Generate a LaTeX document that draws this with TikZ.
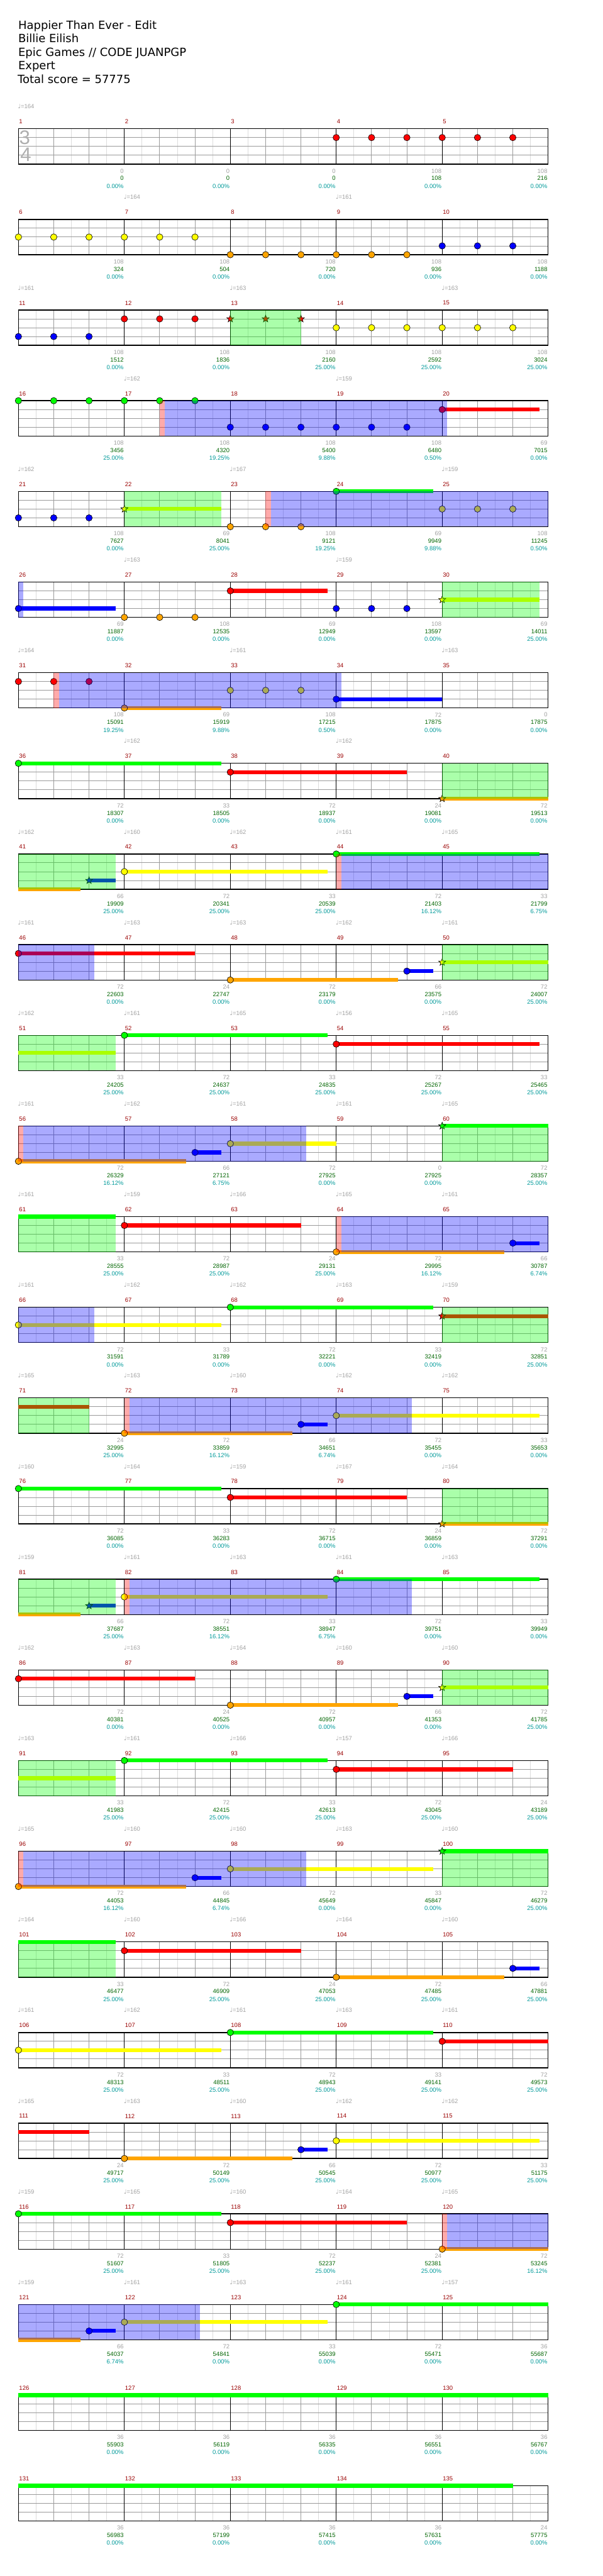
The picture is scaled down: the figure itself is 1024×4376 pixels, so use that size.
\documentclass[tikz,border=0pt]{standalone}
\usepackage{fontspec}
\setmainfont{Liberation Sans}
\newfontfamily\headfont{DejaVu Sans}
\newfontfamily\notefont{DejaVu Sans}
\usepackage{tikz}
\usetikzlibrary{shapes.geometric}

\definecolor{ngreen}{RGB}{0,255,0}
\definecolor{nred}{RGB}{255,0,0}
\definecolor{nyellow}{RGB}{255,255,0}
\definecolor{nblue}{RGB}{0,0,255}
\definecolor{norange}{RGB}{255,165,0}
\definecolor{barred}{RGB}{153,0,0}
\definecolor{softgray}{RGB}{160,160,160}
\definecolor{scoregreen}{RGB}{0,100,0}
\definecolor{spteal}{RGB}{0,153,153}
\definecolor{beatgray}{RGB}{155,155,155}
\definecolor{halfgray}{RGB}{220,220,220}
\definecolor{sigdigit}{RGB}{175,175,175}

\newcommand{\smallfont}{\fontsize{7.6}{8}\selectfont}

\tikzstyle{titleline} = [anchor=base west, inner sep=0pt, font=\headfont\fontsize{14.4}{16}\selectfont]
\tikzstyle{barnumber} = [anchor=west, inner sep=0pt, font=\smallfont, text=barred]
\tikzstyle{basescore} = [anchor=east, inner sep=0pt, font=\smallfont, text=softgray]
\tikzstyle{totscore}  = [anchor=east, inner sep=0pt, font=\smallfont, text=scoregreen]
\tikzstyle{sppercent} = [anchor=east, inner sep=0pt, font=\smallfont, text=spteal]
\tikzstyle{tempomark} = [anchor=west, inner sep=0pt, font=\smallfont, text=softgray]
\tikzstyle{timesig}   = [inner sep=0pt, font=\fontsize{25}{26}\selectfont, text=sigdigit]
\tikzstyle{gemline}   = [draw=black, line width=0.5pt]
\tikzstyle{starnote}  = [star, star points=5, star point ratio=2.4, minimum size=9.5pt,
                         inner sep=0pt, draw=black, line width=0.5pt]
\tikzstyle{phrase}    = [fill=ngreen, fill opacity=0.333]
\tikzstyle{activ}     = [fill=nblue, fill opacity=0.333]
\tikzstyle{whammy}    = [fill=nred, fill opacity=0.333]

% one row = 5 bars of 3 beats, 60px a beat, rows 154px apart
\newcommand{\rowgrid}[1]{%
  \pgfmathsetmacro{\ty}{218.7+154*#1}
  \foreach \i in {0,...,14} \draw[halfgray, line width=0.75pt] ({61.3+60*\i},\ty) -- ++(0,60);
  \foreach \i in {1,2,4,5,7,8,10,11,13,14} \draw[beatgray, line width=0.75pt] ({31.3+60*\i},\ty) -- ++(0,60);
  \foreach \j in {15,30,45} \draw[beatgray, line width=0.75pt] (31.3,\ty+\j) -- (931.3,\ty+\j);
  \foreach \k in {1,...,4} \draw[black, line width=0.75pt] ({31.3+180*\k},\ty) -- ++(0,60);
  \draw[black, line width=1.1pt] (31.3,\ty) rectangle (931.3,\ty+60);
  \foreach \k in {0,...,4} {
    \pgfmathtruncatemacro{\m}{5*#1+\k+1}
    \node[barnumber] (bar-\m) at ({32.3+180*\k},\ty-12) {\m};}}
\newcommand{\rowlabels}[2]{%
  \pgfmathsetmacro{\ly}{218.7+154*#1+60}
  \foreach \g/\s/\p [count=\k] in {#2} {
    \node[basescore] (base-#1-\k)  at ({30.3+180*\k},\ly+11.7) {\g};
    \node[totscore]  (total-#1-\k) at ({30.3+180*\k},\ly+24.4) {\s};
    \node[sppercent] (sp-#1-\k)    at ({30.3+180*\k},\ly+37.4) {\p\%};}}
\newcommand{\tempos}[2]{%
  \foreach \k/\t in {#2}
    \node[tempomark] (bpm-#1-\k) at ({30.3+180*\k},{218.7+154*#1-37.7}) {{\notefont ♩}=\t};}
% notes: row, beat, lane (0 green .. 4 orange), colour
\newcommand{\gem}[4]{\filldraw[fill=#4, gemline] ({31.3+60*#2},{218.7+154*#1+15*#3}) circle (5.5);}
\newcommand{\gems}[4]{\foreach \b in {#2} {\gem{#1}{\b}{#3}{#4}}}
\newcommand{\stargem}[4]{\node[starnote, fill=#4] (star-#1-#2) at ({31.3+60*#2},{218.7+154*#1+15*#3}) {};}
\newcommand{\sus}[5]{\fill[#5] ({31.3+60*#2},{218.7+154*#1+15*#4-3.3}) rectangle ({31.3+60*(#2+#3)},{218.7+154*#1+15*#4+3.3});}
\newcommand{\hold}[5]{\sus{#1}{#2}{#3}{#4}{#5}\gem{#1}{#2}{#4}{#5}}
\newcommand{\holdstar}[5]{\sus{#1}{#2}{#3}{#4}{#5}\stargem{#1}{#2}{#4}{#5}}
\newcommand{\spzone}[4]{\fill[#4] (#2,{218.7+154*#1}) rectangle (#3,{278.7+154*#1});}

\begin{document}
\begin{tikzpicture}[x=0.75pt, y=-0.75pt]
  \useasboundingbox (0,0) rectangle (1024,4376);

  % Header
  \node[titleline] (song)   at (30.8,49.3)  {Happier Than Ever - Edit};
  \node[titleline] (artist) at (30.8,72.3)  {Billie Eilish};
  \node[titleline] (album)  at (30.8,95.5)  {Epic Games // CODE JUANPGP};
  \node[titleline] (level)  at (30.8,118.4) {Expert};
  \node[titleline] (total)  at (29.8,141.4) {Total score = 57775};

  % measures 1-5
  \rowgrid{0}
  \node[timesig] (signum) at (42,233.3) {3};
  \node[timesig] (sigden) at (43.8,263) {4};
  \gems{0}{9,...,14}{1}{nred}
  \rowlabels{0}{0/0/0.00, 0/0/0.00, 0/0/0.00, 108/108/0.00, 108/216/0.00}
  \tempos{0}{0/164}

  % measures 6-10
  \rowgrid{1}
  \gems{1}{0,...,5}{2}{nyellow}
  \gems{1}{6,...,11}{4}{norange}
  \gems{1}{12,13,14}{3}{nblue}
  \rowlabels{1}{108/324/0.00, 108/504/0.00, 108/720/0.00, 108/936/0.00, 108/1188/0.00}
  \tempos{1}{1/164, 3/161}

  % measures 11-15
  \rowgrid{2}
  \gems{2}{0,1,2}{3}{nblue}
  \gems{2}{3,4,5}{1}{nred}
  \foreach \b in {6,7,8} {\stargem{2}{\b}{1}{nred}}
  \gems{2}{9,...,14}{2}{nyellow}
  \spzone{2}{391.3}{511.3}{phrase}
  \rowlabels{2}{108/1512/0.00, 108/1836/0.00, 108/2160/25.00, 108/2592/25.00, 108/3024/25.00}
  \tempos{2}{0/161, 2/163, 4/163}

  % measures 16-20
  \rowgrid{3}
  \gems{3}{0,...,5}{0}{ngreen}
  \gems{3}{6,...,11}{3}{nblue}
  \hold{3}{12}{2.75}{1}{nred}
  \spzone{3}{271.3}{279.7}{whammy}
  \spzone{3}{279.7}{759.7}{activ}
  \rowlabels{3}{108/3456/25.00, 108/4320/19.25, 108/5400/9.88, 108/6480/0.50, 69/7015/0.00}
  \tempos{3}{1/162, 3/159}

  % measures 21-25
  \rowgrid{4}
  \gems{4}{0,1,2}{3}{nblue}
  \holdstar{4}{3}{2.75}{2}{nyellow}
  \gems{4}{6,7,8}{4}{norange}
  \hold{4}{9}{2.75}{0}{ngreen}
  \gems{4}{12,13,14}{2}{nyellow}
  \spzone{4}{211.3}{376.3}{phrase}
  \spzone{4}{451.3}{460}{whammy}
  \spzone{4}{460}{931.3}{activ}
  \rowlabels{4}{108/7627/0.00, 69/8041/25.00, 108/9121/19.25, 69/9949/9.88, 108/11245/0.50}
  \tempos{4}{0/162, 2/167, 4/159}

  % measures 26-30
  \rowgrid{5}
  \hold{5}{0}{2.75}{3}{nblue}
  \gems{5}{3,4,5}{4}{norange}
  \hold{5}{6}{2.75}{1}{nred}
  \gems{5}{9,10,11}{3}{nblue}
  \holdstar{5}{12}{2.75}{2}{nyellow}
  \spzone{5}{31.3}{40}{activ}
  \spzone{5}{751.3}{916.3}{phrase}
  \rowlabels{5}{69/11887/0.00, 108/12535/0.00, 69/12949/0.00, 108/13597/0.00, 69/14011/25.00}
  \tempos{5}{1/163, 3/159}

  % measures 31-35
  \rowgrid{6}
  \gems{6}{0,1,2}{1}{nred}
  \hold{6}{3}{2.75}{4}{norange}
  \gems{6}{6,7,8}{2}{nyellow}
  \hold{6}{9}{3}{3}{nblue}
  \spzone{6}{91.3}{100}{whammy}
  \spzone{6}{100}{580}{activ}
  \rowlabels{6}{108/15091/19.25, 69/15919/9.88, 108/17215/0.50, 72/17875/0.00, 0/17875/0.00}
  \tempos{6}{0/164, 2/161, 4/163}

  % measures 36-40
  \rowgrid{7}
  \hold{7}{0}{5.75}{0}{ngreen}
  \hold{7}{6}{5}{1}{nred}
  \holdstar{7}{12}{3}{4}{norange}
  \spzone{7}{751.3}{931.3}{phrase}
  \rowlabels{7}{72/18307/0.00, 33/18505/0.00, 72/18937/0.00, 24/19081/0.00, 72/19513/0.00}
  \tempos{7}{1/162, 3/162}

  % measures 41-45
  \rowgrid{8}
  \sus{8}{0}{1.75}{4}{norange}
  \holdstar{8}{2}{0.75}{3}{nblue}
  \hold{8}{3}{5.75}{2}{nyellow}
  \hold{8}{9}{5.75}{0}{ngreen}
  \spzone{8}{31.3}{196.3}{phrase}
  \spzone{8}{571.3}{580}{whammy}
  \spzone{8}{580}{931.3}{activ}
  \rowlabels{8}{66/19909/25.00, 72/20341/25.00, 33/20539/25.00, 72/21403/16.12, 33/21799/6.75}
  \tempos{8}{0/162, 1/160, 2/162, 3/161, 4/165}

  % measures 46-50
  \rowgrid{9}
  \hold{9}{0}{5}{1}{nred}
  \hold{9}{6}{4.75}{4}{norange}
  \hold{9}{11}{0.75}{3}{nblue}
  \holdstar{9}{12}{3}{2}{nyellow}
  \spzone{9}{31.3}{160}{activ}
  \spzone{9}{751.3}{931.3}{phrase}
  \rowlabels{9}{72/22603/0.00, 24/22747/0.00, 72/23179/0.00, 66/23575/0.00, 72/24007/25.00}
  \tempos{9}{0/161, 1/163, 2/163, 3/162, 4/161}

  % measures 51-55
  \rowgrid{10}
  \sus{10}{0}{2.75}{2}{nyellow}
  \hold{10}{3}{5.75}{0}{ngreen}
  \hold{10}{9}{5.75}{1}{nred}
  \spzone{10}{31.3}{196.3}{phrase}
  \rowlabels{10}{33/24205/25.00, 72/24637/25.00, 33/24835/25.00, 72/25267/25.00, 33/25465/25.00}
  \tempos{10}{0/162, 1/161, 2/165, 3/156, 4/165}

  % measures 56-60
  \rowgrid{11}
  \hold{11}{0}{4.75}{4}{norange}
  \hold{11}{5}{0.75}{3}{nblue}
  \hold{11}{6}{3}{2}{nyellow}
  \holdstar{11}{12}{3}{0}{ngreen}
  \spzone{11}{31.3}{40}{whammy}
  \spzone{11}{40}{520}{activ}
  \spzone{11}{751.3}{931.3}{phrase}
  \rowlabels{11}{72/26329/16.12, 66/27121/6.75, 72/27925/0.00, 0/27925/0.00, 72/28357/25.00}
  \tempos{11}{0/161, 1/162, 2/161, 3/161, 4/165}

  % measures 61-65
  \rowgrid{12}
  \sus{12}{0}{2.75}{0}{ngreen}
  \hold{12}{3}{5}{1}{nred}
  \hold{12}{9}{4.75}{4}{norange}
  \hold{12}{14}{0.75}{3}{nblue}
  \spzone{12}{31.3}{196.3}{phrase}
  \spzone{12}{571.3}{580}{whammy}
  \spzone{12}{580}{931.3}{activ}
  \rowlabels{12}{33/28555/25.00, 72/28987/25.00, 24/29131/25.00, 72/29995/16.12, 66/30787/6.74}
  \tempos{12}{0/161, 1/159, 2/166, 3/165, 4/161}

  % measures 66-70
  \rowgrid{13}
  \hold{13}{0}{5.75}{2}{nyellow}
  \hold{13}{6}{5.75}{0}{ngreen}
  \holdstar{13}{12}{3}{1}{nred}
  \spzone{13}{31.3}{160}{activ}
  \spzone{13}{751.3}{931.3}{phrase}
  \rowlabels{13}{72/31591/0.00, 33/31789/0.00, 72/32221/0.00, 33/32419/0.00, 72/32851/25.00}
  \tempos{13}{0/161, 1/162, 2/162, 3/163, 4/159}

  % measures 71-75
  \rowgrid{14}
  \sus{14}{0}{2}{1}{nred}
  \hold{14}{3}{4.75}{4}{norange}
  \hold{14}{8}{0.75}{3}{nblue}
  \hold{14}{9}{5.75}{2}{nyellow}
  \spzone{14}{31.3}{151.3}{phrase}
  \spzone{14}{211.3}{220}{whammy}
  \spzone{14}{220}{700}{activ}
  \rowlabels{14}{24/32995/25.00, 72/33859/16.12, 66/34651/6.74, 72/35455/0.00, 33/35653/0.00}
  \tempos{14}{0/165, 1/163, 2/160, 3/162, 4/162}

  % measures 76-80
  \rowgrid{15}
  \hold{15}{0}{5.75}{0}{ngreen}
  \hold{15}{6}{5}{1}{nred}
  \holdstar{15}{12}{3}{4}{norange}
  \spzone{15}{751.3}{931.3}{phrase}
  \rowlabels{15}{72/36085/0.00, 33/36283/0.00, 72/36715/0.00, 24/36859/0.00, 72/37291/0.00}
  \tempos{15}{0/160, 1/164, 2/159, 3/167, 4/164}

  % measures 81-85
  \rowgrid{16}
  \sus{16}{0}{1.75}{4}{norange}
  \holdstar{16}{2}{0.75}{3}{nblue}
  \hold{16}{3}{5.75}{2}{nyellow}
  \hold{16}{9}{5.75}{0}{ngreen}
  \spzone{16}{31.3}{196.3}{phrase}
  \spzone{16}{211.3}{220}{whammy}
  \spzone{16}{220}{700}{activ}
  \rowlabels{16}{66/37687/25.00, 72/38551/16.12, 33/38947/6.75, 72/39751/0.00, 33/39949/0.00}
  \tempos{16}{0/159, 1/161, 2/163, 3/161, 4/163}

  % measures 86-90
  \rowgrid{17}
  \hold{17}{0}{5}{1}{nred}
  \hold{17}{6}{4.75}{4}{norange}
  \hold{17}{11}{0.75}{3}{nblue}
  \holdstar{17}{12}{3}{2}{nyellow}
  \spzone{17}{751.3}{931.3}{phrase}
  \rowlabels{17}{72/40381/0.00, 24/40525/0.00, 72/40957/0.00, 66/41353/0.00, 72/41785/25.00}
  \tempos{17}{0/162, 1/163, 2/164, 3/160, 4/160}

  % measures 91-95
  \rowgrid{18}
  \sus{18}{0}{2.75}{2}{nyellow}
  \hold{18}{3}{5.75}{0}{ngreen}
  \hold{18}{9}{5}{1}{nred}
  \spzone{18}{31.3}{196.3}{phrase}
  \rowlabels{18}{33/41983/25.00, 72/42415/25.00, 33/42613/25.00, 72/43045/25.00, 24/43189/25.00}
  \tempos{18}{0/163, 1/161, 2/166, 3/157, 4/166}

  % measures 96-100
  \rowgrid{19}
  \hold{19}{0}{4.75}{4}{norange}
  \hold{19}{5}{0.75}{3}{nblue}
  \hold{19}{6}{5.75}{2}{nyellow}
  \holdstar{19}{12}{3}{0}{ngreen}
  \spzone{19}{31.3}{40}{whammy}
  \spzone{19}{40}{520}{activ}
  \spzone{19}{751.3}{931.3}{phrase}
  \rowlabels{19}{72/44053/16.12, 66/44845/6.74, 72/45649/0.00, 33/45847/0.00, 72/46279/25.00}
  \tempos{19}{0/165, 1/160, 2/160, 3/163, 4/160}

  % measures 101-105
  \rowgrid{20}
  \sus{20}{0}{2.75}{0}{ngreen}
  \hold{20}{3}{5}{1}{nred}
  \hold{20}{9}{4.75}{4}{norange}
  \hold{20}{14}{0.75}{3}{nblue}
  \spzone{20}{31.3}{196.3}{phrase}
  \rowlabels{20}{33/46477/25.00, 72/46909/25.00, 24/47053/25.00, 72/47485/25.00, 66/47881/25.00}
  \tempos{20}{0/164, 1/160, 2/166, 3/164, 4/160}

  % measures 106-110
  \rowgrid{21}
  \hold{21}{0}{5.75}{2}{nyellow}
  \hold{21}{6}{5.75}{0}{ngreen}
  \hold{21}{12}{3}{1}{nred}
  \rowlabels{21}{72/48313/25.00, 33/48511/25.00, 72/48943/25.00, 33/49141/25.00, 72/49573/25.00}
  \tempos{21}{0/161, 1/162, 2/161, 3/163, 4/161}

  % measures 111-115
  \rowgrid{22}
  \sus{22}{0}{2}{1}{nred}
  \hold{22}{3}{4.75}{4}{norange}
  \hold{22}{8}{0.75}{3}{nblue}
  \hold{22}{9}{5.75}{2}{nyellow}
  \rowlabels{22}{24/49717/25.00, 72/50149/25.00, 66/50545/25.00, 72/50977/25.00, 33/51175/25.00}
  \tempos{22}{0/165, 1/163, 2/160, 3/162, 4/162}

  % measures 116-120
  \rowgrid{23}
  \hold{23}{0}{5.75}{0}{ngreen}
  \hold{23}{6}{5}{1}{nred}
  \hold{23}{12}{3}{4}{norange}
  \spzone{23}{751.3}{760}{whammy}
  \spzone{23}{760}{931.3}{activ}
  \rowlabels{23}{72/51607/25.00, 33/51805/25.00, 72/52237/25.00, 24/52381/25.00, 72/53245/16.12}
  \tempos{23}{0/159, 1/165, 2/160, 3/164, 4/165}

  % measures 121-125
  \rowgrid{24}
  \sus{24}{0}{1.75}{4}{norange}
  \hold{24}{2}{0.75}{3}{nblue}
  \hold{24}{3}{5.75}{2}{nyellow}
  \hold{24}{9}{6}{0}{ngreen}
  \spzone{24}{31.3}{340}{activ}
  \rowlabels{24}{66/54037/6.74, 72/54841/0.00, 33/55039/0.00, 72/55471/0.00, 36/55687/0.00}
  \tempos{24}{0/159, 1/161, 2/163, 3/161, 4/157}

  % measures 126-130
  \rowgrid{25}
  \sus{25}{0}{15}{0}{ngreen}
  \rowlabels{25}{36/55903/0.00, 36/56119/0.00, 36/56335/0.00, 36/56551/0.00, 36/56767/0.00}

  % measures 131-135
  \rowgrid{26}
  \sus{26}{0}{14}{0}{ngreen}
  \rowlabels{26}{36/56983/0.00, 36/57199/0.00, 36/57415/0.00, 36/57631/0.00, 24/57775/0.00}
\end{tikzpicture}
\end{document}
